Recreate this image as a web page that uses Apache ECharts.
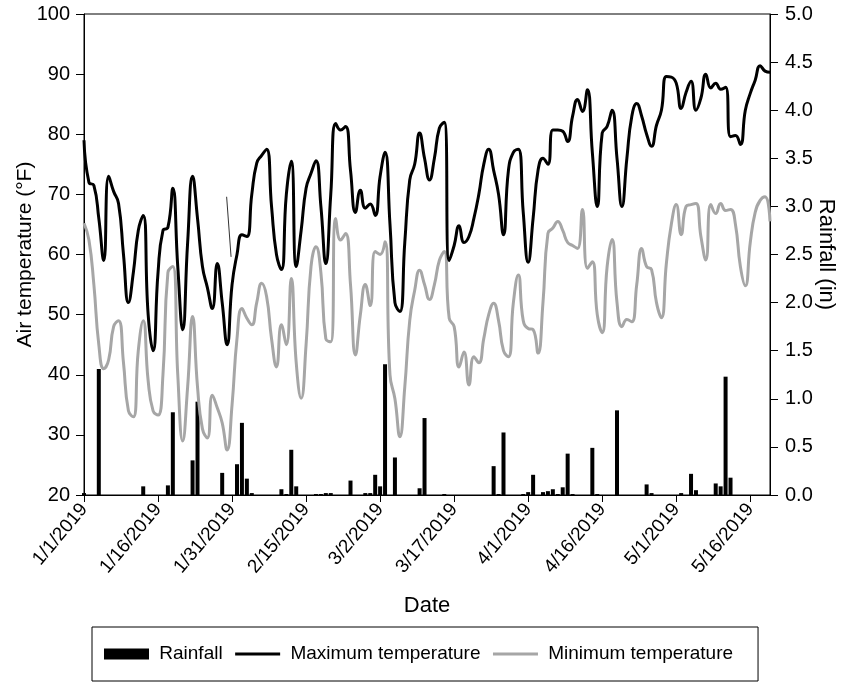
<!DOCTYPE html>
<html>
<head>
<meta charset="utf-8">
<script src="https://cdn.jsdelivr.net/npm/echarts@6/dist/echarts.min.js"></script>
<style>html,body{margin:0;padding:0;background:#fff;}#c{width:849px;height:684px;}</style>
</head>
<body>
<div id="c"></div>
<script>
// Day index 0 = 1/1/2019 ... 139 = 5/20/2019
const tickDays = [0, 15, 30, 45, 60, 75, 90, 105, 120, 135];
const tickLabels = ['1/1/2019','1/16/2019','1/31/2019','2/15/2019','3/2/2019','3/17/2019','4/1/2019','4/16/2019','5/1/2019','5/16/2019'];

const maxTemp = [79,72,71.5,66,59,73,70.5,68.5,60,52,
  57,64,66.5,50,44,57,64,64.5,71,58,
  47.5,62,73,66,58,54.5,51,58.5,52,45,
  55,60,63.3,63,70,75.2,76.5,77.5,68,60,
  57.5,70,75.5,58,64,71,73.5,75.6,68,58.5,
  70,81.8,80.7,81.3,74,67,70.7,67.7,68.4,66.5,
  73,77,65,52,50.5,62,72.4,75,80.2,76,
  72.4,76,81,82,59,61.5,64.8,62,63,66,
  70,75,77.5,74,70,63.3,74,77,77.5,67,
  58.7,66,74,76,75,80.7,80.7,80.5,78.8,83,
  85.8,83.8,87.4,77,68,80.2,81.3,84,76,68,
  76,83,85.1,83,80,78,81.5,84,89.6,89.5,
  88.5,84.3,87,88.8,84,86,90,87.7,88.5,87.5,
  87.8,79.6,79.8,78.3,84,86.8,89,91.4,90.5,90.3];

const minTemp = [65.2,62.4,55,45,41,42.5,48,49,42,34,
  33,44,49,39,34,33.3,40,57,58,40,
  29,38,49.7,38,31,29.5,36.6,34.5,32,27.5,
  35,46,51,49.4,48.3,52,55.2,53,46,41.3,
  48.3,45,56,42,36.1,45,58,61.3,57,46,
  45.5,66,62.4,63.5,55,43.3,50,55,51.5,60.5,
  60,62.1,40,36,29.7,38,49,54,57.4,55,
  52.5,55,59,60.5,49.4,48,41.3,43.8,38.3,43,
  42,46,50,51.9,49,44,43,52,56.6,49,
  47.7,47.5,43.6,52,63.5,64.4,65.5,64,62,61.5,
  61,67.5,57.7,58.8,50,47,58,62.5,52,48,
  49.2,48.8,55,61,58,57.5,52,49.5,58.5,65,
  68.3,63.3,68,68.3,68.5,63,59.1,68.3,66.8,68.5,
  67.3,67.5,65,58,54.8,62,67,69,69.6,65.5];

const rainDays   = [0,3,12,17,18,22,23,28,31,32,33,34,40,41,42,43,47,48,49,50,54,57,58,59,60,61,63,68,69,73,83,84,85,89,90,91,93,94,95,96,97,98,99,103,104,108,114,115,121,123,124,128,129,130,131];
const rainValues = [0.02,1.31,0.09,0.10,0.86,0.36,0.97,0.23,0.32,0.75,0.17,0.02,0.06,0.01,0.47,0.09,0.01,0.01,0.02,0.02,0.15,0.02,0.02,0.21,0.09,1.36,0.39,0.07,0.80,0.01,0.30,0.01,0.65,0.01,0.03,0.21,0.03,0.04,0.06,0.01,0.08,0.43,0.01,0.49,0.01,0.88,0.11,0.02,0.02,0.22,0.05,0.12,0.09,1.23,0.18];

// stray thin segment visible in the original figure
const strayDays = [28.9, 29.8];
const strayTemps = [69.6, 59.6];

const font = "'Liberation Sans', Arial, sans-serif";
const chart = echarts.init(document.getElementById('c'));
const maxData = maxTemp.map((v, i) => [i, v]);
const minData = minTemp.map((v, i) => [i, v]);
const rainData = rainDays.map((d, i) => [d, rainValues[i]]);
const strayData = strayDays.map((d, i) => [d, strayTemps[i]]);

chart.setOption({
  animation: false,
  backgroundColor: '#fff',
  textStyle: { fontFamily: font, color: '#000' },
  grid: { left: 84, right: 79, top: 14, bottom: 189, show: true, borderColor: '#000', borderWidth: 1,
          containLabel: false, outerBoundsMode: 'none' },
  xAxis: {
    type: 'value', min: 0, max: 139,
    name: 'Date', nameLocation: 'middle', nameGap: 100, nameMoveOverlap: false,
    nameTextStyle: { fontSize: 22, color: '#000', fontFamily: font },
    axisLine: { lineStyle: { color: '#000', width: 1 } },
    axisTick: { show: true, length: 7, lineStyle: { color: '#000' }, customValues: tickDays },
    axisLabel: {
      customValues: tickDays, rotate: 50, fontSize: 19, color: '#000', fontFamily: font, margin: 11,
      formatter: function (v) { const k = tickDays.indexOf(Math.round(v)); return k >= 0 ? tickLabels[k] : ''; }
    },
    splitLine: { show: false }
  },
  yAxis: [{
    type: 'value', min: 20, max: 100, interval: 10,
    name: 'Air temperature (°F)', nameLocation: 'middle', nameGap: 48, nameRotate: 90, nameMoveOverlap: false,
    nameTextStyle: { fontSize: 21, color: '#000', fontFamily: font },
    axisLine: { show: true, lineStyle: { color: '#000' } },
    axisTick: { show: true, length: 8, lineStyle: { color: '#000' } },
    axisLabel: { fontSize: 20, color: '#000', fontFamily: font, margin: 14 },
    splitLine: { show: false }
  }, {
    type: 'value', min: 0, max: 5, interval: 0.5, position: 'right',
    name: 'Rainfall (in)', nameLocation: 'middle', nameGap: 45, nameRotate: -90, nameMoveOverlap: false,
    nameTextStyle: { fontSize: 22, color: '#000', fontFamily: font },
    axisLine: { show: true, lineStyle: { color: '#000' } },
    axisTick: { show: true, length: 8, lineStyle: { color: '#000' } },
    axisLabel: { fontSize: 20, color: '#000', fontFamily: font, margin: 15, formatter: v => v.toFixed(1) },
    splitLine: { show: false }
  }],
  legend: {
    left: 92, top: 627, orient: 'horizontal',
    padding: [17, 25, 17, 12], itemGap: 11, itemWidth: 45, itemHeight: 11,
    borderColor: '#000', borderWidth: 1,
    lineStyle: { width: 3 },
    textStyle: { fontSize: 19, color: '#000', fontFamily: font, lineHeight: 20 },
    formatter: ' {name}',
    data: [
      { name: 'Rainfall', icon: 'rect' },
      { name: 'Maximum temperature', itemStyle: { opacity: 0 } },
      { name: 'Minimum temperature', itemStyle: { opacity: 0 } }
    ]
  },
  series: [{
    name: 'Rainfall', type: 'bar', yAxisIndex: 1, data: rainData, barWidth: 4,
    itemStyle: { color: '#000' }, z: 1
  }, {
    name: 'Maximum temperature', type: 'line', yAxisIndex: 0, data: maxData,
    smooth: 0.5, symbol: 'none', lineStyle: { color: '#000', width: 3 }, itemStyle: { color: '#000' }, z: 3
  }, {
    name: 'Minimum temperature', type: 'line', yAxisIndex: 0, data: minData,
    smooth: 0.5, symbol: 'none', lineStyle: { color: '#a6a6a6', width: 3 }, itemStyle: { color: '#a6a6a6' }, z: 2
  }, {
    name: 'stray', type: 'line', yAxisIndex: 0, data: strayData,
    symbol: 'none', lineStyle: { color: '#333', width: 1 }, z: 3
  }]
});
</script>
</body>
</html>
